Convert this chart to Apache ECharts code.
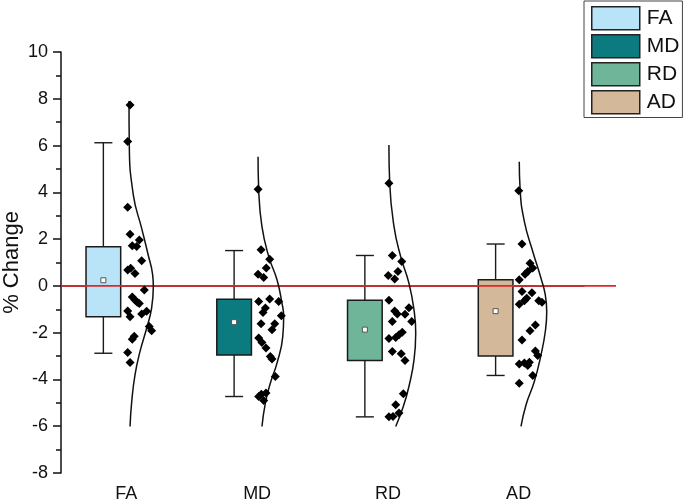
<!DOCTYPE html>
<html><head><meta charset="utf-8">
<script src="https://cdn.jsdelivr.net/npm/echarts@6/dist/echarts.min.js"></script>
<style>html,body{margin:0;padding:0;background:#fff}#c{width:685px;height:504px}</style>
</head><body><div id="c"></div>
<script>
// ---------- data ----------
const categories = ['FA', 'MD', 'RD', 'AD'];
const boxColors = ['#b9e4f8', '#0b7b80', '#6fb59a', '#d3b899'];
const yTicks = { min: -8, max: 10, interval: 2 };

const whiskerLow  = [-2.88, -4.73, -5.60, -3.83];
const quartile1   = [-1.32, -2.96, -3.19, -3.00];
const quartile3   = [ 1.67, -0.57, -0.61,  0.26];
const whiskerHigh = [ 6.12,  1.51,  1.30,  1.79];
const means       = [ 0.24, -1.55, -1.87, -1.08];

// points: [jitter (fraction of category width), % change]
const pointsFA = [[0.028,7.73],[0.010,6.17],[0.010,3.36],[0.028,2.21],[0.045,1.72],[0.079,1.68],[0.099,1.96],[0.117,1.08],[0.010,0.68],[0.033,0.75],[0.066,0.53],[0.137,-0.18],[0.045,-0.47],[0.066,-0.60],[0.083,-0.70],[0.099,-0.75],[0.155,-1.08],[0.117,-1.20],[0.010,-1.07],[0.028,-1.32],[0.175,-1.74],[0.193,-1.92],[0.045,-2.28],[0.060,-2.15],[0.010,-2.85],[0.028,-3.28]];
const pointsMD = [[0.007,4.13],[0.030,1.54],[0.096,1.14],[0.070,0.76],[0.007,0.50],[0.050,0.36],[0.012,-0.67],[0.096,-0.56],[0.165,-0.67],[0.063,-0.95],[0.045,-1.14],[0.185,-1.28],[0.030,-1.62],[0.135,-1.62],[0.114,-1.88],[0.012,-2.23],[0.037,-2.42],[0.068,-2.66],[0.101,-3.02],[0.114,-3.13],[0.139,-3.87],[0.012,-4.73],[0.032,-4.63],[0.068,-4.58],[0.050,-4.90]];
const pointsRD = [[0.008,4.39],[0.034,1.30],[0.106,1.04],[0.077,0.61],[0.003,0.44],[0.052,0.29],[0.008,-0.61],[0.052,-1.07],[0.072,-1.20],[0.131,-1.21],[0.161,-0.93],[0.034,-1.52],[0.182,-1.52],[0.008,-2.25],[0.060,-2.21],[0.085,-2.09],[0.110,-1.98],[0.034,-2.81],[0.102,-2.90],[0.131,-3.19],[0.118,-4.61],[0.060,-5.08],[0.085,-5.44],[0.008,-5.60],[0.039,-5.58]];
const pointsAD = [[0.001,4.07],[0.026,1.79],[0.087,0.97],[0.108,0.76],[0.070,0.61],[0.049,0.50],[0.005,0.26],[0.026,-0.24],[0.102,-0.29],[0.062,-0.53],[0.044,-0.64],[0.005,-0.78],[0.154,-0.64],[0.179,-0.70],[0.128,-1.67],[0.087,-1.92],[0.026,-2.31],[0.128,-2.78],[0.146,-2.98],[0.005,-3.34],[0.044,-3.30],[0.070,-3.40],[0.082,-3.26],[0.108,-3.83],[0.005,-4.16]];

// distribution curves: [offset (fraction of category width), % change]
const curveFA = [[0.020,7.9],[0.022,6.17],[0.053,3.89],[0.117,2.46],[0.167,1.32],[0.201,0.47],[0.206,-0.03],[0.193,-0.95],[0.155,-1.81],[0.104,-2.81],[0.066,-3.80],[0.041,-4.94],[0.028,-6.01]];
const curveMD = [[0.007,5.52],[0.012,4.13],[0.037,2.53],[0.089,1.25],[0.152,0.26],[0.190,-0.74],[0.203,-1.31],[0.196,-2.17],[0.152,-3.30],[0.101,-4.16],[0.063,-5.01],[0.037,-6.01]];
const curveRD = [[0.008,6.02],[0.014,4.39],[0.047,2.53],[0.098,1.25],[0.161,0.12],[0.200,-1.03],[0.213,-2.02],[0.200,-3.16],[0.161,-4.30],[0.118,-5.16],[0.060,-6.01]];
const curveAD = [[0.005,5.31],[0.011,4.17],[0.044,2.75],[0.108,1.47],[0.171,0.33],[0.204,-0.38],[0.215,-1.10],[0.204,-1.95],[0.171,-2.95],[0.120,-4.09],[0.057,-5.08],[0.018,-6.01]];

const referenceValue = 0;

// ---------- layout / style ----------
const FONT = '"Liberation Sans", Arial, sans-serif';
const GRID = { left: 61, top: 52, bottom: 31 };
const AXIS_RIGHT = 101;      // right margin of the category axis
const REF_RIGHT = 69;        // right margin where the reference line ends
const plotW = 685 - GRID.left - AXIS_RIGHT;
const xExt = categories.length * (685 - GRID.left - REF_RIGHT) / plotW;
const BOX_SHIFT = -0.176, BOX_W = 0.265, CAP_W = 0.138;

const allPoints = [pointsFA, pointsMD, pointsRD, pointsAD];
const allCurves = [curveFA, curveMD, curveRD, curveAD];

const chart = echarts.init(document.getElementById('c'), null, { renderer: 'canvas' });

function renderBox(params, api) {
  const ci = api.value(0);
  const c = ci + 0.5 + BOX_SHIFT;
  const lo = api.value(1), q1 = api.value(2), q3 = api.value(3), hi = api.value(4), mn = api.value(5);
  const x0 = api.coord([c - BOX_W / 2, q3])[0];
  const x1 = api.coord([c + BOX_W / 2, q3])[0];
  const xc = api.coord([c, q3])[0];
  const cx0 = api.coord([c - CAP_W / 2, hi])[0];
  const cx1 = api.coord([c + CAP_W / 2, hi])[0];
  const yHi = api.coord([c, hi])[1], yQ3 = api.coord([c, q3])[1];
  const yQ1 = api.coord([c, q1])[1], yLo = api.coord([c, lo])[1];
  const yMn = api.coord([c, mn])[1];
  const ln = { stroke: '#1a1a1a', lineWidth: 1.4 };
  return {
    type: 'group',
    children: [
      { type: 'line', shape: { x1: xc, y1: yHi, x2: xc, y2: yQ3 }, style: ln },
      { type: 'line', shape: { x1: xc, y1: yQ1, x2: xc, y2: yLo }, style: ln },
      { type: 'line', shape: { x1: cx0, y1: yHi, x2: cx1, y2: yHi }, style: ln },
      { type: 'line', shape: { x1: cx0, y1: yLo, x2: cx1, y2: yLo }, style: ln },
      { type: 'rect', shape: { x: x0, y: yQ3, width: x1 - x0, height: yQ1 - yQ3 },
        style: { fill: boxColors[ci], stroke: '#1a1a1a', lineWidth: 1.5 } },
      { type: 'rect', shape: { x: xc - 2.5, y: yMn - 2.5, width: 5, height: 5 },
        style: { fill: '#ffffff', stroke: '#555', lineWidth: 1 } }
    ]
  };
}

const series = [];
categories.forEach((name, i) => {
  series.push({
    name: name,
    type: 'custom',
    xAxisIndex: 1, yAxisIndex: 1,
    renderItem: renderBox,
    itemStyle: { color: boxColors[i] },
    encode: { x: 0, y: [1, 2, 3, 4, 5] },
    data: [[i, whiskerLow[i], quartile1[i], quartile3[i], whiskerHigh[i], means[i]]],
    z: 2,
    silent: true
  });
});
series.push({
  type: 'line', xAxisIndex: 1, yAxisIndex: 1,
  data: [[0, referenceValue], [xExt, referenceValue]],
  symbol: 'none', silent: true, clip: false,
  lineStyle: { color: '#e3262b', width: 1.6 }, z: 3
});
categories.forEach((name, i) => {
  series.push({
    type: 'line', xAxisIndex: 1, yAxisIndex: 1,
    data: allCurves[i].map(p => [i + 0.5 + p[0], p[1]]),
    smooth: 0.5, symbol: 'none', silent: true,
    lineStyle: { color: '#111', width: 1.5 }, z: 4
  });
  series.push({
    type: 'scatter', xAxisIndex: 1, yAxisIndex: 1,
    data: allPoints[i].map(p => [i + 0.5 + p[0], p[1]]),
    symbol: 'diamond', symbolSize: 9, silent: true,
    itemStyle: { color: '#000', opacity: 1 }, z: 5
  });
});

const option = {
  animation: false,
  backgroundColor: '#ffffff',
  textStyle: { fontFamily: FONT },
  grid: [
    { left: GRID.left, right: AXIS_RIGHT, top: GRID.top, bottom: GRID.bottom, containLabel: false, outerBoundsMode: 'none' },
    { left: GRID.left, right: REF_RIGHT, top: GRID.top, bottom: GRID.bottom, containLabel: false, outerBoundsMode: 'none' }
  ],
  legend: {
    orient: 'vertical', left: 584, top: 1,
    data: categories.map((n, i) => ({ name: n, icon: 'rect',
      itemStyle: { color: boxColors[i], borderColor: '#222', borderWidth: 1.5 } })),
    itemWidth: 48, itemHeight: 23, itemGap: 3.5,
    padding: [5, 3, 3, 7],
    borderColor: '#444', borderWidth: 1,
    selectedMode: false,
    textStyle: { fontSize: 21, lineHeight: 23, color: '#111', fontFamily: FONT, padding: [0, 0, 0, 2] }
  },
  xAxis: [
    { type: 'category', gridIndex: 0, data: categories, boundaryGap: true,
      axisLine: { lineStyle: { color: '#111', width: 1.5 } },
      axisTick: { alignWithLabel: true, length: 8, lineStyle: { color: '#111', width: 1.5 } },
      axisLabel: { fontSize: 18, color: '#111', margin: 12, fontFamily: FONT },
      splitLine: { show: false } },
    { type: 'value', gridIndex: 1, min: 0, max: xExt, show: false }
  ],
  yAxis: [
    { type: 'value', gridIndex: 0, min: yTicks.min, max: yTicks.max, interval: yTicks.interval,
      name: '% Change', nameLocation: 'middle', nameGap: 38, nameMoveOverlap: false,
      nameTextStyle: { fontSize: 22, color: '#111', fontFamily: FONT },
      axisLine: { show: true, lineStyle: { color: '#111', width: 1.5 } },
      axisTick: { show: true, length: 8, lineStyle: { color: '#111', width: 1.5 } },
      minorTick: { show: true, splitNumber: 2, length: 5, lineStyle: { color: '#111', width: 1.5 } },
      axisLabel: { fontSize: 18, color: '#111', margin: 13, fontFamily: FONT },
      splitLine: { show: false } },
    { type: 'value', gridIndex: 1, min: yTicks.min, max: yTicks.max, show: false }
  ],
  series: series
};
chart.setOption(option);
</script></body></html>
